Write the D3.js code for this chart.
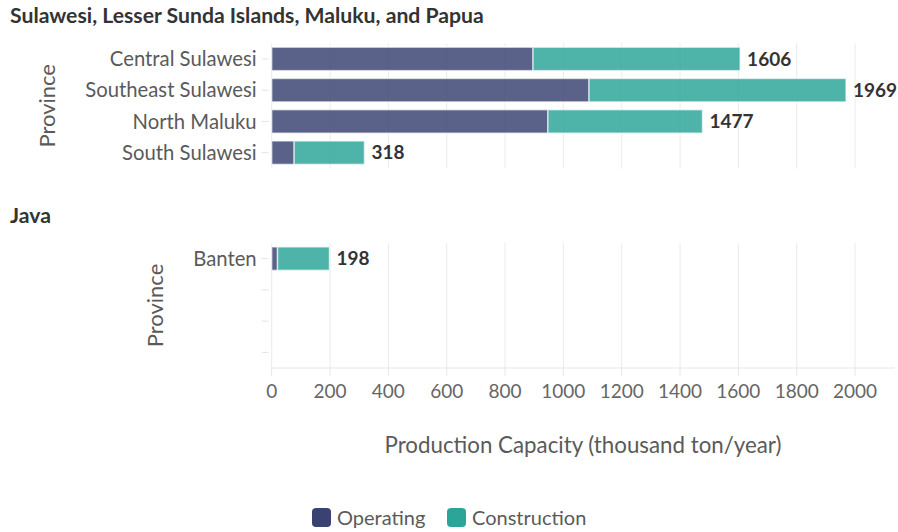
<!DOCTYPE html>
<html>
<head>
<meta charset="utf-8">
<script src="https://cdn.jsdelivr.net/npm/d3@7"></script>
<style>
  body { margin: 0; background: #fff; }
  svg { font-family: "Lato", "Noto Sans", sans-serif; }
</style>
</head>
<body>
<div id="chart"></div>
<script>
// data
const regions = ["Sulawesi, Lesser Sunda Islands, Maluku, and Papua", "Java"];
const sulawesiProvinces = ["Central Sulawesi", "Southeast Sulawesi", "North Maluku", "South Sulawesi"];
const sulawesiOperating = [896, 1088, 947, 77];
const sulawesiConstruction = [710, 881, 530, 241];
const javaProvinces = ["Banten"];
const javaOperating = [20];
const javaConstruction = [178];
const statuses = ["Operating", "Construction"];
const xTicks = [0, 200, 400, 600, 800, 1000, 1200, 1400, 1600, 1800, 2000];

const width = 898, height = 532;
const colors = { Operating: "#3a4272", Construction: "#2aa598" };

const svg = d3.select("#chart").append("svg")
    .attr("width", width)
    .attr("height", height);

const x = d3.scaleLinear().domain([0, 2137]).range([271.7, 895]);

function drawPanel(title, provinces, operating, construction, top, titleY) {
    const rows = provinces.map((p, i) => ({
        province: p, Operating: operating[i], Construction: construction[i],
        total: operating[i] + construction[i]
    }));
    // always 4 slots so both panels share the band size
    const slots = d3.range(4);
    const y = d3.scaleBand().domain(slots).range([top, top + 125]).paddingInner(0.25).paddingOuter(0.125);

    svg.append("text")
        .attr("x", 10).attr("y", titleY)
        .attr("font-size", 21.2).attr("font-weight", "bold").attr("fill", "#333")
        .text(title);

    // grid
    svg.append("g").selectAll("line")
        .data(xTicks).enter().append("line")
        .attr("x1", d => x(d)).attr("x2", d => x(d))
        .attr("y1", top).attr("y2", top + 125)
        .attr("stroke", "#ebebeb").attr("stroke-width", 1);

    // y ticks + labels
    const yg = svg.append("g");
    yg.selectAll("line").data(slots).enter().append("line")
        .attr("x1", x(0) - 10).attr("x2", x(0) - 3)
        .attr("y1", d => y(d) + y.bandwidth() / 2).attr("y2", d => y(d) + y.bandwidth() / 2)
        .attr("stroke", "#e3e3e3");
    yg.selectAll("text").data(rows).enter().append("text")
        .attr("x", x(0) - 15)
        .attr("y", (d, i) => y(i) + y.bandwidth() / 2)
        .attr("dy", "0.35em")
        .attr("text-anchor", "end")
        .attr("font-size", 20.3).attr("fill", "#5a5a5a")
        .text(d => d.province);

    const labelW = d3.max(yg.selectAll("text").nodes(), n => n.getComputedTextLength());
    svg.append("text")
        .attr("transform", `translate(${x(0) - 15 - labelW - 30},${top + 62.5}) rotate(-90)`)
        .attr("text-anchor", "middle")
        .attr("font-size", 22).attr("fill", "#5a5a5a")
        .text("Province");

    const stacked = d3.stack().keys(statuses)(rows);
    svg.append("g").selectAll("g")
        .data(stacked).enter().append("g")
        .attr("fill", d => colors[d.key])
        .attr("fill-opacity", 0.83)
        .selectAll("rect")
        .data(d => d).enter().append("rect")
        .attr("x", d => x(d[0]))
        .attr("y", (d, i) => y(i))
        .attr("width", d => x(d[1]) - x(d[0]))
        .attr("height", y.bandwidth())
        .attr("stroke", "#fff").attr("stroke-opacity", 0.6).attr("stroke-width", 1.5);

    svg.append("g").selectAll("text")
        .data(rows).enter().append("text")
        .attr("x", d => x(d.total) + 7)
        .attr("y", (d, i) => y(i) + y.bandwidth() / 2)
        .attr("dy", "0.35em")
        .attr("font-size", 19).attr("font-weight", "bold").attr("fill", "#333")
        .text(d => d.total);
}

drawPanel(regions[0], sulawesiProvinces, sulawesiOperating, sulawesiConstruction, 43.3, 23);
drawPanel(regions[1], javaProvinces, javaOperating, javaConstruction, 243, 223);

// x axis at bottom of java panel
svg.append("line")
    .attr("x1", x(0)).attr("x2", x(2137))
    .attr("y1", 368).attr("y2", 368)
    .attr("stroke", "#e6e6e6");
const xa = svg.append("g");
xa.selectAll("line").data(xTicks).enter().append("line")
    .attr("x1", d => x(d)).attr("x2", d => x(d))
    .attr("y1", 368).attr("y2", 376)
    .attr("stroke", "#e6e6e6");
xa.selectAll("text").data(xTicks).enter().append("text")
    .attr("x", d => x(d)).attr("y", 398)
    .attr("text-anchor", "middle")
    .attr("font-size", 19).attr("fill", "#666")
    .text(d => d);

svg.append("text")
    .attr("x", 583)
    .attr("y", 453)
    .attr("text-anchor", "middle")
    .attr("font-size", 22.3).attr("fill", "#5a5a5a")
    .text("Production Capacity (thousand ton/year)");

// legend
const legend = svg.append("g").attr("transform", "translate(312,508)");
const lx = [0, 135];
statuses.forEach((s, i) => {
    const g = legend.append("g").attr("transform", `translate(${lx[i]},0)`);
    g.append("rect").attr("width", 19).attr("height", 19).attr("rx", 4)
        .attr("fill", colors[s]);
    g.append("text").attr("x", 25).attr("y", 10).attr("dy", "0.35em")
        .attr("font-size", 20).attr("fill", "#5a5a5a")
        .text(s);
});
</script>
</body>
</html>
